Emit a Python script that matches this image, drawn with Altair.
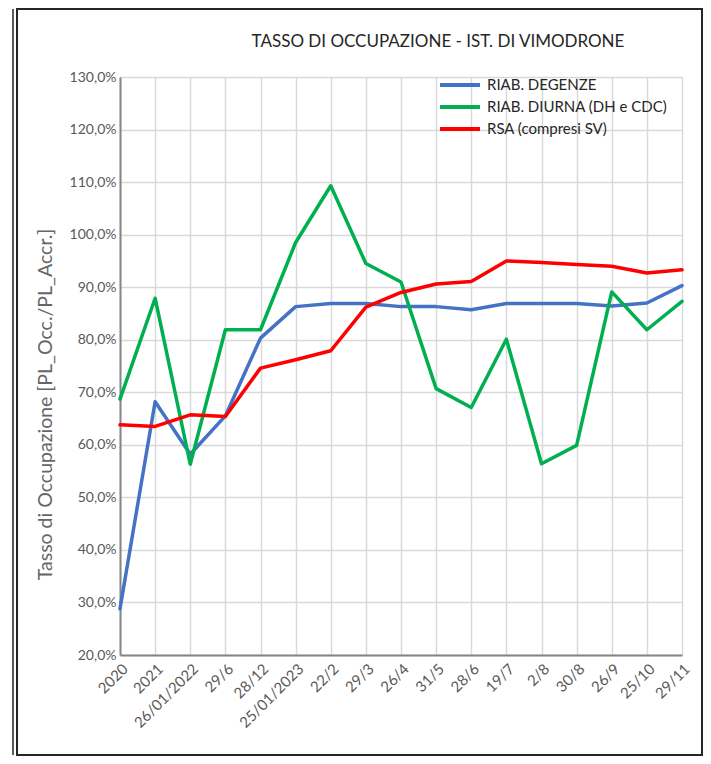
import altair as alt
import pandas as pd

categories = ["2020", "2021", "26/01/2022", "29/6", "28/12", "25/01/2023", "22/2", "29/3",
              "26/4", "31/5", "28/6", "19/7", "2/8", "30/8", "26/9", "25/10", "29/11"]

riab_degenze = [0.288, 0.682, 0.582, 0.655, 0.803, 0.863, 0.869, 0.869, 0.863, 0.863,
                0.857, 0.869, 0.869, 0.869, 0.864, 0.870, 0.903]
riab_diurna = [0.687, 0.879, 0.563, 0.819, 0.819, 0.985, 1.093, 0.945, 0.910, 0.707,
               0.671, 0.801, 0.564, 0.599, 0.891, 0.819, 0.873]
rsa = [0.638, 0.635, 0.657, 0.654, 0.746, 0.762, 0.779, 0.862, 0.890, 0.906,
       0.911, 0.950, 0.947, 0.943, 0.940, 0.927, 0.933]

series_names = ["RIAB. DEGENZE", "RIAB. DIURNA (DH e CDC)", "RSA (compresi SV)"]
series_colors = ["#4472C4", "#00B050", "#FF0000"]
y_ticks = [0.2, 0.3, 0.4, 0.5, 0.6, 0.7, 0.8, 0.9, 1.0, 1.1, 1.2, 1.3]
title_text = "TASSO DI OCCUPAZIONE - IST. DI VIMODRONE"
y_title = "Tasso di Occupazione [PL_Occ./PL_Accr.]"

rows = []
for name, vals in zip(series_names, [riab_degenze, riab_diurna, rsa]):
    for c, v in zip(categories, vals):
        rows.append({"Data": c, "Serie": name, "Valore": v})
df = pd.DataFrame(rows)

FONT = "Lato"
W, H = 562, 578

lines = alt.Chart(df).mark_line(strokeWidth=3.5, strokeCap="round", strokeJoin="round").encode(
    x=alt.X("Data:N", sort=categories,
            scale=alt.Scale(type="point", padding=0),
            axis=alt.Axis(title=None, labelAngle=-45, labelFontSize=15, labelColor="#595959",
                          labelFont=FONT, grid=True, gridColor="#d9d9d9", gridWidth=1.5,
                          ticks=False, domainColor="#868686", domainWidth=2, labelPadding=6)),
    y=alt.Y("Valore:Q", scale=alt.Scale(domain=[0.2, 1.3], nice=False, zero=False),
            axis=alt.Axis(values=y_ticks,
                          labelExpr="replace(format(datum.value, '.1%'), '.', ',')",
                          labelFontSize=14, labelColor="#595959", labelFont=FONT,
                          grid=True, gridColor="#d9d9d9", gridWidth=1.5, ticks=False,
                          domainColor="#868686", domainWidth=2, labelPadding=4,
                          title=y_title,
                          titleFont=FONT, titleFontSize=19.5, titleFontWeight="normal",
                          titleColor="#666666", titleX=-65, titleY=327,
                          titleAlign="center", titleBaseline="bottom", titleAngle=270)),
    color=alt.Color("Serie:N",
                    scale=alt.Scale(domain=series_names, range=series_colors),
                    legend=alt.Legend(title=None, orient="none", legendX=318, legendY=-3,
                                      padding=0, symbolType="stroke", symbolSize=1600,
                                      symbolStrokeWidth=4, labelFontSize=15,
                                      labelFont=FONT, labelColor="#262626", labelLimit=400,
                                      rowPadding=0, clipHeight=22, labelOffset=5)),
)

one = pd.DataFrame({"f": [0]})

frame = alt.Chart(one).mark_rect(
    fillOpacity=0, stroke="#262626", strokeWidth=2
).encode(
    x=alt.value(-103), x2=alt.value(582), y=alt.value(-68), y2=alt.value(678)
)

outer_line = alt.Chart(one).mark_rule(stroke="#262626", strokeWidth=1.5).encode(
    x=alt.value(-107), y=alt.value(-68), y2=alt.value(678)
)

title = alt.Chart(one).mark_text(
    text=title_text, font=FONT, fontSize=17, color="#262626",
    align="center", baseline="alphabetic"
).encode(x=alt.value(318), y=alt.value(-30))

chart = alt.layer(frame, outer_line, title, lines).properties(
    width=W, height=H,
    padding={"left": 4, "top": 0, "right": 0, "bottom": 0},
).configure_view(stroke=None).configure(background="white")

chart.save("out.html", embed_options={"renderer": "svg", "actions": False})
